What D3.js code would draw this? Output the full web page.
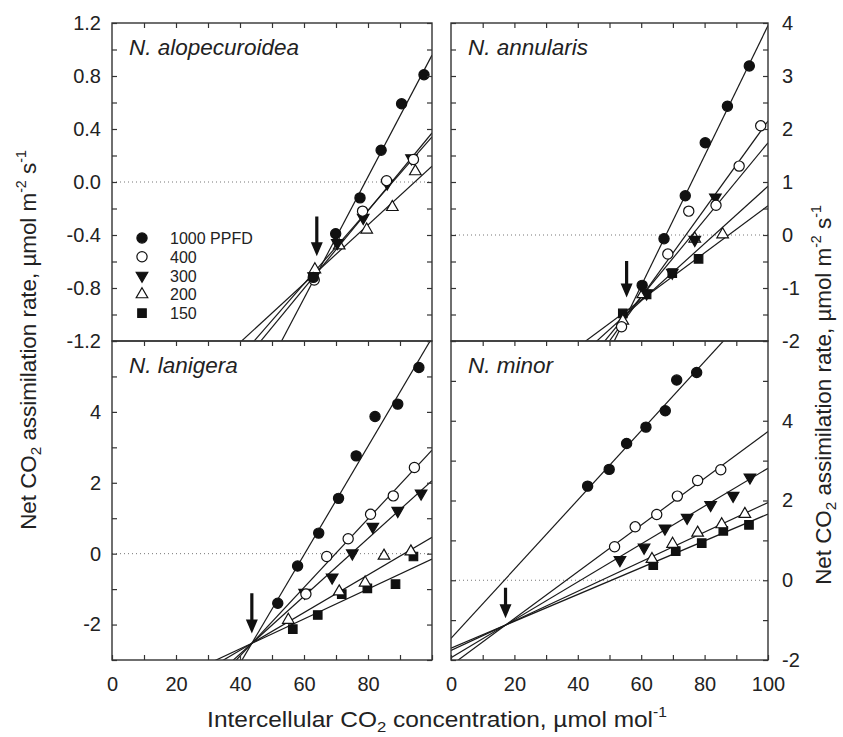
<!DOCTYPE html>
<html>
<head>
<meta charset="utf-8">
<script src="https://cdn.jsdelivr.net/npm/d3@7"></script>
<style>
body { margin: 0; background: #fff; }
text { font-family: "Liberation Sans", Arial, sans-serif; fill: #222; }
</style>
</head>
<body>
<div id="chart"></div>
<script>
var ppfdLabels = ['1000 PPFD', '400', '300', '200', '150'];
var speciesNames = ['N. alopecuroidea', 'N. annularis', 'N. lanigera', 'N. minor'];

// [Ci, A]
var alo1000 = [[62.9,-0.72],[69.9,-0.39],[77.5,-0.12],[84.1,0.24],[90.5,0.59],[97.5,0.81]];
var alo400  = [[63.2,-0.74],[78.3,-0.22],[85.8,0.01],[94.2,0.17]];
var alo300  = [[63.0,-0.71],[70.4,-0.46],[78.5,-0.27],[86.0,-0.01],[93.6,0.18]];
var alo200  = [[63.4,-0.66],[71.0,-0.48],[79.6,-0.36],[87.6,-0.19],[94.8,0.08]];
var alo150  = [];

var ann1000 = [[60.3,-0.95],[67.2,-0.07],[73.9,0.74],[80.2,1.74],[87.2,2.43],[94.1,3.19]];
var ann400  = [[53.8,-1.73],[68.4,-0.36],[75.0,0.45],[83.6,0.56],[90.9,1.30],[97.7,2.06]];
var ann300  = [[61.7,-1.10],[69.8,-0.71],[76.9,-0.09],[83.4,0.71]];
var ann200  = [[54.2,-1.62],[60.5,-1.12],[76.9,-0.07],[85.7,0.01]];
var ann150  = [[54.2,-1.48],[61.7,-1.12],[69.8,-0.72],[78.1,-0.45]];

var lan1000 = [[51.8,-1.40],[58.0,-0.35],[64.6,0.58],[70.8,1.56],[76.3,2.76],[82.2,3.87],[89.3,4.22],[95.9,5.25]];
var lan400  = [[60.6,-1.14],[67.1,-0.08],[73.8,0.42],[80.8,1.11],[87.9,1.63],[94.5,2.43]];
var lan300  = [[60.2,-1.10],[68.8,-0.67],[75.1,0.01],[81.5,0.76],[89.3,1.21],[96.6,1.70]];
var lan200  = [[55.1,-1.87],[71.0,-1.07],[79.1,-0.82],[85.0,-0.06],[93.4,0.06]];
var lan150  = [[56.5,-2.13],[64.3,-1.73],[71.8,-1.14],[79.8,-0.98],[88.6,-0.86],[94.2,-0.08]];

var min1000 = [[43.1,2.36],[49.9,2.78],[55.4,3.43],[61.5,3.84],[67.6,4.25],[71.2,5.02],[77.5,5.21]];
var min400  = [[51.6,0.84],[58.1,1.34],[64.9,1.65],[71.4,2.11],[77.8,2.50],[85.1,2.77]];
var min300  = [[53.3,0.51],[60.9,0.82],[67.5,1.30],[74.5,1.57],[81.9,1.89],[89.0,2.12],[94.3,2.58]];
var min200  = [[63.4,0.53],[69.9,0.91],[77.8,1.19],[85.4,1.40],[92.7,1.66]];
var min150  = [[63.8,0.38],[70.9,0.73],[79.1,0.93],[85.9,1.24],[94.0,1.39]];

// regression lines, two points each [Ci0, A0, Ci1, A1], order 1000..150
var aloFit = [[53.0,-1.2,99.4,0.93],[46.5,-1.2,100,0.37],[44.4,-1.2,100,0.34],[40.5,-1.2,100,0.12]];
var annFit = [[51.5,-2,100.4,4.0],[50,-2,100,2.15],[48.5,-2,100,1.74],[46,-2,100,0.92],[42.5,-2,100,0.55]];
var lanFit = [[43.7,-2.53,99.4,6.0],[43.7,-2.53,99.4,2.86],[43.7,-2.53,99.4,2.01],[43.7,-2.53,99.4,0.43],[43.7,-2.53,99.4,-0.18]];
var minFit = [[0,-1.46,85.7,5.98],[17.3,-1.12,100,3.73],[17.3,-1.12,100,2.81],[17.3,-1.12,100,1.95],[17.3,-1.12,100,1.66]];

// arrows marking the compensation point
var arrowCi   = [64, 55.4, 43.7, 17.2];
var arrowFrom = [-0.26, -0.49, -1.12, -0.19];
var arrowTo   = [-0.56, -1.18, -2.25, -0.95];

var yTicksTL = [-1.2, -0.8, -0.4, 0, 0.4, 0.8, 1.2];
var yTicksTR = [-2, -1, 0, 1, 2, 3, 4];
var yTicksBL = [-2, 0, 2, 4];
var yTicksBR = [-2, 0, 2, 4];
var xTicksL = [0, 20, 40, 60, 80];
var xTicksR = [0, 20, 40, 60, 80, 100];

var svg = d3.select('#chart').append('svg').attr('width', 843).attr('height', 737);

var symbols = [
	{ type: d3.symbolCircle, size: 82, fill: '#111', rot: 0 },
	{ type: d3.symbolCircle, size: 82, fill: '#fff', rot: 0 },
	{ type: d3.symbolTriangle, size: 58, fill: '#111', rot: 180 },
	{ type: d3.symbolTriangle, size: 58, fill: '#fff', rot: 0 },
	{ type: d3.symbolSquare, size: 72, fill: '#111', rot: 0 }
];

var panels = [
	{ xr: [112, 432], yr: [23, 341], dom: [-1.2, 1.2], minor: d3.range(-12, 13, 2).map(v => v / 10), major: yTicksTL,
	  fmt: d => d.toFixed(1), side: 'left', series: [alo1000, alo400, alo300, alo200, alo150], fits: aloFit, xlab: null },
	{ xr: [451, 768], yr: [23, 341], dom: [-2, 4], minor: d3.range(-4, 9).map(v => v / 2), major: yTicksTR,
	  fmt: d => String(d), side: 'right', series: [ann1000, ann400, ann300, ann200, ann150], fits: annFit, xlab: null },
	{ xr: [112, 432], yr: [341, 660], dom: [-3, 6], minor: d3.range(-3, 7), major: yTicksBL,
	  fmt: d => String(d), side: 'left', series: [lan1000, lan400, lan300, lan200, lan150], fits: lanFit, xlab: xTicksL },
	{ xr: [451, 768], yr: [341, 660], dom: [-2, 6], minor: d3.range(-2, 7), major: yTicksBR,
	  fmt: d => String(d), side: 'right', series: [min1000, min400, min300, min200, min150], fits: minFit, xlab: xTicksR }
];

var tick = 5;

panels.forEach(function(p, i) {
	var x = d3.scaleLinear().domain([0, 100]).range(p.xr);
	var y = d3.scaleLinear().domain(p.dom).range([p.yr[1], p.yr[0]]);
	var g = svg.append('g');

	svg.append('clipPath').attr('id', 'clip' + i).append('rect')
		.attr('x', p.xr[0]).attr('y', p.yr[0])
		.attr('width', p.xr[1] - p.xr[0]).attr('height', p.yr[1] - p.yr[0]);

	// zero line
	g.append('line')
		.attr('x1', p.xr[0]).attr('x2', p.xr[1])
		.attr('y1', y(0)).attr('y2', y(0))
		.attr('stroke', '#777').attr('stroke-width', 1)
		.attr('stroke-dasharray', '1,3');

	// fitted lines, extended across the panel
	var lines = g.append('g').attr('clip-path', 'url(#clip' + i + ')');
	p.fits.forEach(function(f) {
		var m = (f[3] - f[1]) / (f[2] - f[0]);
		lines.append('line')
			.attr('x1', x(0)).attr('y1', y(f[1] + m * (0 - f[0])))
			.attr('x2', x(100)).attr('y2', y(f[1] + m * (100 - f[0])))
			.attr('stroke', '#1a1a1a').attr('stroke-width', 1.2);
	});

	// points, low light first so 1000 sits on top
	for (var s = p.series.length - 1; s >= 0; s--) {
		var st = symbols[s];
		g.append('g').selectAll('path').data(p.series[s]).enter()
			.append('path')
			.attr('d', d3.symbol().type(st.type).size(st.size))
			.attr('transform', d => `translate(${x(d[0])},${y(d[1])}) rotate(${st.rot})`)
			.attr('fill', st.fill)
			.attr('stroke', '#111').attr('stroke-width', 1.2);
	}

	// arrow
	var ax = x(arrowCi[i]), a0 = y(arrowFrom[i]), a1 = y(arrowTo[i]);
	var hh = 14, hw = 6;
	g.append('path')
		.attr('d', `M${ax - 1.6},${a0} L${ax + 1.6},${a0} L${ax + 1.6},${a1 - hh} L${ax + hw},${a1 - hh} L${ax},${a1} L${ax - hw},${a1 - hh} L${ax - 1.6},${a1 - hh} Z`)
		.attr('fill', '#111');

	// inward ticks on all four sides
	var tl = g.append('g').attr('class', 'axis');
	var yLeft = d3.axisLeft(y).tickValues(p.minor).tickSize(-tick).tickPadding(11)
		.tickFormat(d => (p.side === 'left' && p.major.some(v => Math.abs(v - d) < 1e-9)) ? p.fmt(d) : '');
	tl.append('g').attr('transform', `translate(${p.xr[0]},0)`).call(yLeft);
	var yRight = d3.axisRight(y).tickValues(p.minor).tickSize(-tick).tickPadding(14)
		.tickFormat(d => (p.side === 'right' && p.major.some(v => Math.abs(v - d) < 1e-9)) ? p.fmt(d) : '');
	tl.append('g').attr('transform', `translate(${p.xr[1]},0)`).call(yRight);
	var xTop = d3.axisTop(x).tickValues(d3.range(10, 100, 10)).tickSize(-tick).tickFormat('');
	tl.append('g').attr('transform', `translate(0,${p.yr[0]})`).call(xTop);
	if (p.xlab) {
		var xBottom = d3.axisBottom(x).tickValues(d3.range(0, 101, 10)).tickSize(-tick).tickPadding(17)
			.tickFormat(d => p.xlab.indexOf(d) >= 0 ? String(d) : '');
		tl.append('g').attr('transform', `translate(0,${p.yr[1]})`).call(xBottom);
	}
	tl.selectAll('.domain').remove();
	tl.selectAll('.tick line').attr('stroke', '#333').attr('stroke-width', 1.2);
	tl.selectAll('.tick text').attr('font-size', 20).attr('fill', '#222')
		.style('font-family', '"Liberation Sans", Arial, sans-serif');

	// frame
	g.append('rect')
		.attr('x', p.xr[0]).attr('y', p.yr[0])
		.attr('width', p.xr[1] - p.xr[0]).attr('height', p.yr[1] - p.yr[0])
		.attr('fill', 'none').attr('stroke', '#333').attr('stroke-width', 1.4);

	// species name
	g.append('text')
		.attr('x', p.xr[0] + 17).attr('y', p.yr[0] + 32)
		.attr('font-size', 22.5).attr('font-style', 'italic')
		.text(speciesNames[i]);
});

// legend in the first panel
var legend = svg.append('g').attr('transform', 'translate(142,238)');
ppfdLabels.forEach(function(lab, k) {
	var st = symbols[k];
	var row = legend.append('g').attr('transform', `translate(0,${k * 18.8})`);
	row.append('path')
		.attr('d', d3.symbol().type(st.type).size(st.size))
		.attr('transform', `rotate(${st.rot})`)
		.attr('fill', st.fill).attr('stroke', '#111').attr('stroke-width', 1.2);
	row.append('text').attr('x', 28).attr('y', 6).attr('font-size', 16).text(lab);
});

// axis titles with sub/superscripts
function title(g, parts) {
	var t = g.append('text').attr('font-size', 22).attr('text-anchor', 'middle');
	parts.forEach(function(pt) {
		var ts = t.append('tspan').text(pt[0]);
		if (pt[1] === 'sub') ts.attr('font-size', 15).attr('dy', 5);
		if (pt[1] === 'sup') ts.attr('font-size', 14).attr('dy', -10);
		if (pt[1] === 'back-sub') ts.attr('dy', -5);
		if (pt[1] === 'back-sup') ts.attr('dy', 10);
	});
	return t;
}
var yParts = [['Net CO'], ['2', 'sub'], [' assimilation rate, \u00b5mol m', 'back-sub'], ['-2', 'sup'], [' s', 'back-sup'], ['-1', 'sup']];
var xParts = [['Intercellular CO'], ['2', 'sub'], [' concentration, \u00b5mol mol', 'back-sub'], ['-1', 'sup']];

function fitWidth(t, target) {
	var w = t.node().getComputedTextLength();
	return target / w;
}

var gl = svg.append('g');
var tLeft = title(gl, yParts);
var kl = fitWidth(tLeft, 380);
gl.attr('transform', `translate(36,340) rotate(-90) scale(${kl},1)`);

var gr = svg.append('g');
var tRight = title(gr, yParts);
var kr = fitWidth(tRight, 380);
gr.attr('transform', `translate(831,395) rotate(-90) scale(${kr},1)`);

var gb = svg.append('g');
var tBot = title(gb, xParts);
var kb = fitWidth(tBot, 460);
gb.attr('transform', `translate(437,727) scale(${kb},1)`);
</script>
</body>
</html>
